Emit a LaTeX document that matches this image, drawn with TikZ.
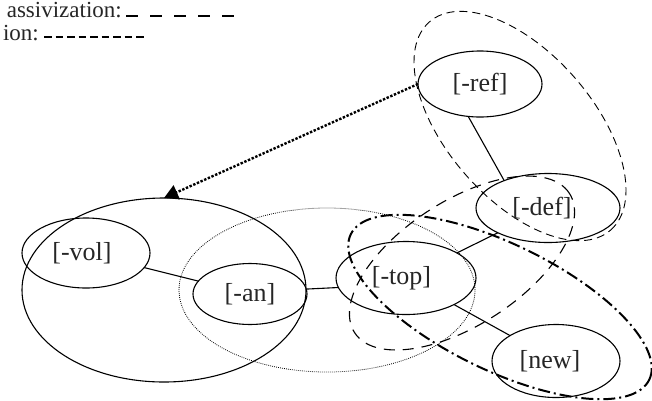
\documentclass[tikz,border=0pt]{standalone}
\usepackage{fontspec}
\setmainfont{Liberation Serif}
\usetikzlibrary{shapes.geometric,arrows.meta}
\begin{document}
\begin{tikzpicture}[x=1pt,y=-1pt,
  lbl/.style={font=\fontsize{26}{30}\selectfont, text=black!85},
  leg/.style={font=\fontsize{23}{27}\selectfont, text=black!85, inner sep=0pt},
  ell/.style n args={2}{ellipse, draw, inner sep=0pt, outer sep=0pt,
      minimum width=#1, minimum height=#2, line width=1.1pt},
  grp/.style n args={2}{ellipse, draw, inner sep=0pt, outer sep=0pt,
      minimum width=#1, minimum height=#2},
  link/.style={line width=1.1pt},
  dashA/.style={line width=0.9pt, dash pattern=on 8pt off 5pt},
  dashB/.style={line width=1.1pt, dash pattern=on 11pt off 8pt},
  dashdotC/.style={line width=2pt, dash pattern=on 12pt off 4pt on 2pt off 4pt},
  dotted fine/.style={line width=0.8pt, dash pattern=on 0.8pt off 1.2pt},
  dotarrow/.style={line width=2.4pt, dash pattern=on 2.4pt off 1.6pt,
      -{Triangle[length=14pt,width=15pt]}}]
\useasboundingbox (0,0) rectangle (652,400);

% legend
\node[leg, anchor=base east] (legA) at (122,17) {assivization:};
\node[leg, anchor=base east] (legB) at (39,40) {ion:};
\draw[line width=2pt, dash pattern=on 12pt off 12pt] (126,16) -- (237,16);
\draw[line width=1.4pt, dash pattern=on 7.5pt off 4pt] (44,37) -- (145,37);

% grouping ellipses
\node[grp={284pt}{184pt}, line width=1.1pt] (big) at (164,290) {};
\node[grp={296pt}{164pt}, dotted fine] (dotg) at (327,290) {};
\node[grp={276pt}{146pt}, dashA, rotate=-49] (grpA) at (520,126) {};
\node[grp={256pt}{124pt}, dashB, rotate=33] (grpB) at (462,263) {};
\node[grp={332pt}{126pt}, dashdotC, rotate=-26] (grpC) at (500,307) {};

% feature nodes
\node[ell={124pt}{66pt}, lbl] (ref) at (480,84) {[-ref]};
\node[ell={144pt}{69pt}, lbl] (def) at (548,208) {[-def]\hspace*{12pt}};
\node[ell={140pt}{73pt}, lbl] (top) at (406,278) {[-top]\hspace*{9pt}};
\node[ell={128pt}{73pt}, lbl] (new) at (556,361) {[new]\hspace*{12pt}};
\node[ell={128pt}{70pt}, lbl] (vol) at (86,253) {[-vol]\hspace*{8pt}};
\node[ell={114pt}{61pt}, lbl] (an) at (250,294) {[-an]};

% connectors
\draw[link] (vol) -- (an);
\draw[link] (an.5) -- (top.188);
\draw[link] (top) -- (def);
\draw[link] (top) -- (new);
\draw[link] (ref.250) -- (def.148);
\draw[dotarrow] (ref.west) -- (big.north);
\end{tikzpicture}
\end{document}
